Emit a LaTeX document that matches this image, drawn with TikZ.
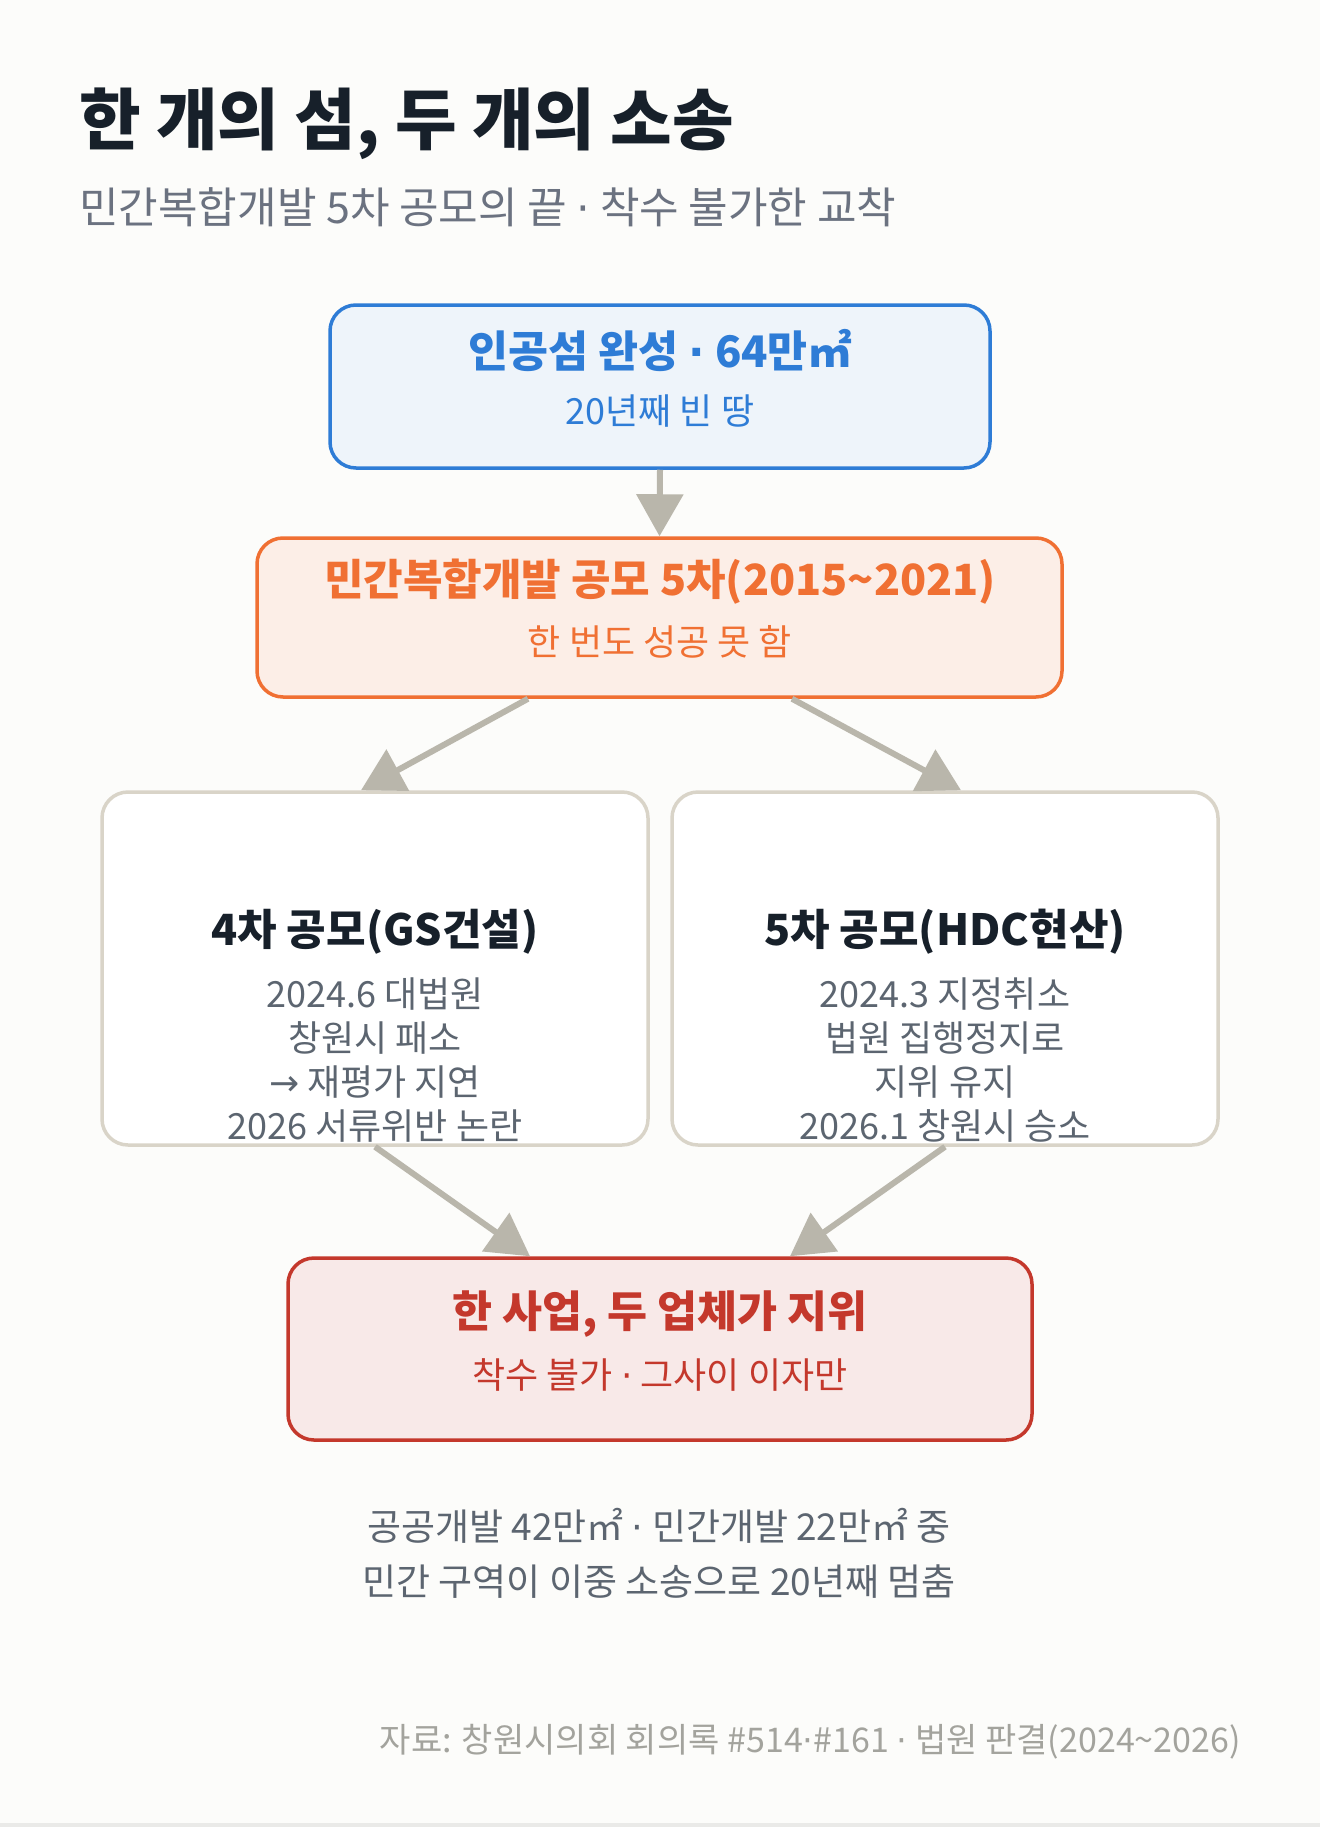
\documentclass[tikz,border=0pt]{standalone}
\usepackage{fontspec}
\setmainfont{Noto Sans CJK KR}
\newfontfamily\symfont{DejaVu Sans}
\newcommand\sepdot{{\symfont ·}}
\newcommand\rarr{{\symfont →}}
\usetikzlibrary{arrows.meta,positioning}
\definecolor{pagebg}{RGB}{252,252,250}
\definecolor{pageedge}{RGB}{234,234,232}
\definecolor{inkdark}{RGB}{23,32,42}
\definecolor{inkgray}{RGB}{107,114,128}
\definecolor{bodygray}{RGB}{92,101,112}
\definecolor{notegray}{RGB}{163,163,157}
\definecolor{isleblue}{RGB}{46,124,214}
\definecolor{isleblueF}{RGB}{238,244,250}
\definecolor{bidorange}{RGB}{240,112,51}
\definecolor{bidorangeF}{RGB}{252,238,231}
\definecolor{suitedge}{RGB}{217,212,200}
\definecolor{deadred}{RGB}{196,56,44}
\definecolor{deadredF}{RGB}{248,233,232}
\definecolor{flowgray}{RGB}{185,182,171}
\tikzset{
  sbox/.style ={rectangle, rounded corners=26pt, line width=3.5pt, inner sep=0pt},
  sisle/.style={sbox, draw=isleblue, fill=isleblueF},
  sbid/.style ={sbox, draw=bidorange, fill=bidorangeF},
  ssuit/.style={sbox, draw=suitedge, fill=white},
  sdead/.style={sbox, draw=deadred, fill=deadredF},
  shead/.style={inner sep=0pt, font=\fontsize{43.5}{50}\selectfont\bfseries},
  ssub/.style ={inner sep=0pt, font=\fontsize{36}{42}\selectfont},
  stitle/.style={inner sep=0pt, text=inkdark, font=\fontsize{43}{50}\selectfont\bfseries},
  sbody/.style={inner sep=0pt, text=bodygray, align=center,
                font=\fontsize{36}{44}\selectfont},
  flow/.style ={-{Triangle[width=46pt,length=42pt]}, line width=6pt, flowgray},
}
\begin{document}
\begin{tikzpicture}[x=1pt, y=-1pt]
\useasboundingbox (0,0) rectangle (1320,1827);
\fill[pagebg] (0,0) rectangle (1320,1827);
\fill[pageedge] (0,1823) rectangle (1320,1827);
% heading
\node[inner sep=0pt, anchor=base west, text=inkdark,
      font=\fontsize{67}{76}\selectfont\bfseries] (title) at (79,145)
  {한 개의 섬, 두 개의 소송};
\node[inner sep=0pt, anchor=base west, text=inkgray,
      font=\fontsize{43}{50}\selectfont] (subtitle) at (79,224)
  {민간복합개발 5차 공모의 끝 \sepdot{} 착수 불가한 교착};
% boxes
\node[sisle, minimum width=660pt, minimum height=163pt] (isle) at (660,386.5) {};
\node[sbid, minimum width=805pt, minimum height=159pt] (bid) at (659.5,617.5) {};
\node[ssuit, minimum width=546pt, minimum height=353pt] (gs) at (375,968.5) {};
\node[ssuit, minimum width=546pt, minimum height=353pt] (hdc) at (945,968.5) {};
\node[sdead, minimum width=744pt, minimum height=182pt] (dead) at (660,1349) {};
% flow
\draw[flow] (isle.south) -- (bid.north);
\draw[flow] ([xshift=-131.5pt]bid.south) -- ([xshift=-14pt]gs.north);
\draw[flow] ([xshift=132.5pt]bid.south) -- ([xshift=16pt]hdc.north);
\draw[flow] (gs.south) -- ([xshift=-130pt]dead.north);
\draw[flow] (hdc.south) -- ([xshift=130pt]dead.north);
% texts
\node[shead, text=isleblue] (isleT) at (660,350) {인공섬 완성 \sepdot{} 64만㎡};
\node[ssub, text=isleblue] (isleS) at (660,411) {20년째 빈 땅};
\node[shead, text=bidorange, font=\fontsize{43}{50}\selectfont\bfseries] (bidT) at (660,582)
  {민간복합개발 공모 5차(2015\textasciitilde2021)};
\node[ssub, text=bidorange] (bidS) at (660,642) {한 번도 성공 못 함};
\node[stitle] (gsT) at (375,932) {4차 공모(GS건설)};
\node[sbody] (gsB) at (375,1060)
  {2024.6 대법원\\창원시 패소\\\rarr{} 재평가 지연\\2026 서류위반 논란};
\node[stitle] (hdcT) at (945,932) {5차 공모(HDC현산)};
\node[sbody] (hdcB) at (945,1060)
  {2024.3 지정취소\\법원 집행정지로\\지위 유지\\2026.1 창원시 승소};
\node[shead, text=deadred] (deadT) at (660,1314) {한 사업, 두 업체가 지위};
\node[ssub, text=deadred] (deadS) at (660,1375) {착수 불가 \sepdot{} 그사이 이자만};
% notes
\node[inner sep=0pt, align=center, text=bodygray,
      font=\fontsize{37}{55}\selectfont] (note) at (659,1553)
  {공공개발 42만㎡ \sepdot{} 민간개발 22만㎡ 중\\민간 구역이 이중 소송으로 20년째 멈춤};
\node[inner sep=0pt, anchor=east, text=notegray,
      font=\fontsize{34}{38}\selectfont] (source) at (1241,1742)
  {자료: 창원시의회 회의록 \#514\sepdot\#161 \sepdot{} 법원 판결(2024\textasciitilde2026)};
\end{tikzpicture}
\end{document}
